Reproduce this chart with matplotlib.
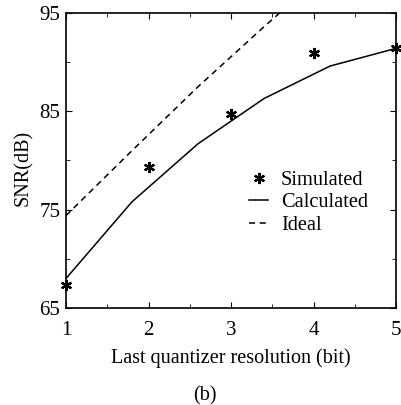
import numpy as np
import matplotlib
matplotlib.use("Agg")
import matplotlib.pyplot as plt
from matplotlib.ticker import MultipleLocator

plt.rcParams['font.family'] = ['Liberation Serif', 'DejaVu Serif']

# data
bits_sim = [1, 2, 3, 4, 5]
snr_sim = [67.3, 79.3, 84.7, 90.9, 91.4]

bits_calc = [1, 1.8, 2.6, 3.4, 4.2, 5]
snr_calc = [68.0, 75.8, 81.7, 86.3, 89.6, 91.4]

bits_ideal = [1, 1.8, 2.6, 3.4, 4.2, 5]
snr_ideal = [74.4, 81.0, 87.5, 93.6, 99.5, 105.5]

fig = plt.figure(figsize=(4.01, 4.05), dpi=100)
ax = fig.add_axes([0.1646, 0.2395, 0.823, 0.7285])

ax.plot(bits_sim, snr_sim, linestyle='none', marker=(6, 2, 0), ms=8, mew=1.6,
        color='black', label='Simulated', clip_on=False, zorder=5)
ax.plot(bits_calc, snr_calc, '-', color='black', lw=1.1, label='Calculated')
ax.plot(bits_ideal, snr_ideal, '--', color='black', lw=1.1, label='Ideal',
        dashes=(4, 3))

ax.set_xlim(1, 5)
ax.set_ylim(65, 95)
ax.set_xticks([1, 2, 3, 4, 5])
ax.set_yticks([65, 75, 85, 95])
ax.xaxis.set_minor_locator(MultipleLocator(0.5))
ax.yaxis.set_minor_locator(MultipleLocator(5))
ax.tick_params(which='both', direction='in', top=True, right=True,
               labelsize=15)
ax.tick_params(axis='x', pad=9)
ax.tick_params(axis='y', pad=4)
ax.tick_params(which='major', length=4)
ax.tick_params(which='minor', length=3)
for s in ax.spines.values():
    s.set_linewidth(1.2)

ax.set_xlabel('Last quantizer resolution (bit)', fontsize=14.5, labelpad=6)
ax.set_ylabel('SNR(dB)', fontsize=14.5)
ax.yaxis.set_label_coords(-0.1, 0.476)

ax.legend(loc='upper left', bbox_to_anchor=(0.525, 0.5), frameon=False,
          fontsize=14.7, handlelength=0.9, handletextpad=0.65,
          labelspacing=0.15, borderpad=0)

fig.text(0.51, 0.0, '(b)', ha='center', va='bottom', fontsize=14.5)

fig.savefig('out.png', dpi=100)
